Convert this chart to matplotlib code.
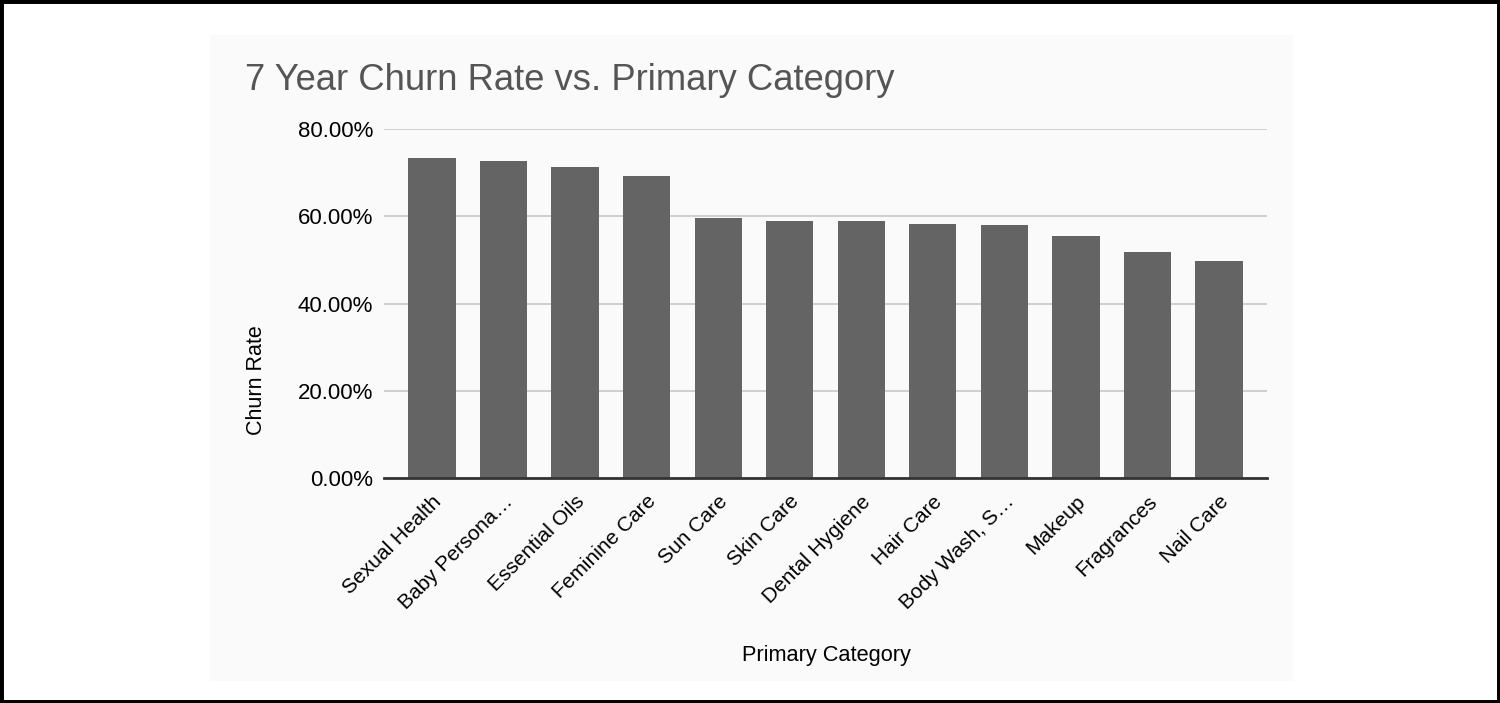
import matplotlib.pyplot as plt
from matplotlib.patches import Rectangle
from matplotlib.ticker import FuncFormatter

plt.rcParams['font.family'] = ['Liberation Sans', 'DejaVu Sans']

categories = ['Sexual Health', 'Baby Persona…', 'Essential Oils', 'Feminine Care',
              'Sun Care', 'Skin Care', 'Dental Hygiene', 'Hair Care',
              'Body Wash, S…', 'Makeup', 'Fragrances', 'Nail Care']
churn = [73.4, 72.6, 71.4, 69.2, 59.5, 58.9, 58.9, 58.2, 58.0, 55.5, 51.8, 49.7]
yticks = [0, 20, 40, 60, 80]

W, H = 1500, 703
fig = plt.figure(figsize=(W/100, H/100), dpi=100)
fig.patch.set_facecolor('white')

# light panel behind the chart
fig.patches.append(Rectangle((210/W, 1-681/H), (1293-210)/W, (681-35)/H,
                             transform=fig.transFigure, facecolor='#fafafa',
                             edgecolor='none', zorder=-5))
# black frame round the picture
fig.patches.append(Rectangle((0, 0), 1, 1, transform=fig.transFigure,
                             facecolor='none', edgecolor='black', lw=5, zorder=10))

ax = fig.add_axes([384/W, 1-478/H, (1267-384)/W, (478-129)/H])
ax.set_zorder(1)
ax.set_facecolor('none')
x = range(len(categories))
ax.bar(x, churn, width=0.66, color='#656464', zorder=3)
ax.set_xlim(-0.67, len(categories)-0.33)
ax.set_ylim(0, 80)
ax.set_yticks(yticks)
ax.yaxis.set_major_formatter(FuncFormatter(lambda v, p: '%.2f%%' % v))
ax.grid(axis='y', color='#c8c8c8', lw=1.2, zorder=0)
ax.set_axisbelow(True)
for s in ['top', 'right', 'left']:
    ax.spines[s].set_visible(False)
ax.spines['bottom'].set_color('#333333')
ax.spines['bottom'].set_linewidth(2)
ax.spines['bottom'].set_zorder(4)
ax.tick_params(axis='both', length=0, labelsize=15, colors='black')
ax.tick_params(axis='y', pad=8, labelsize=16)
ax.set_xticks(list(x))
ax.set_xticklabels(categories, rotation=45, ha='right', rotation_mode='anchor')
ax.tick_params(axis='x', pad=10)

fig.text(245/W, 1-81/H, '7 Year Churn Rate vs. Primary Category', fontsize=26.2,
         color='#555555', va='center', ha='left')
fig.text(256/W, 1-380/H, 'Churn Rate', fontsize=15.5, rotation=90,
         va='center', ha='center')
fig.text(826/W, 1-655/H, 'Primary Category', fontsize=15.7, va='center', ha='center')

fig.savefig('out.png', dpi=100)
